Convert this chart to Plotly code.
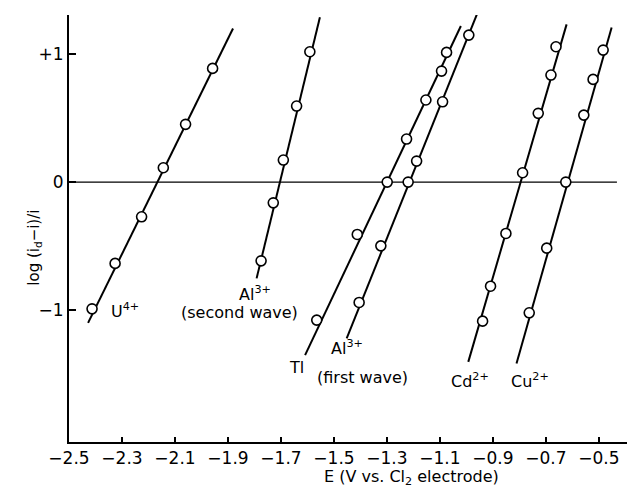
import plotly.graph_objects as go

# ---- data ----
u_E = [-2.413, -2.326, -2.226, -2.144, -2.060, -1.958]
u_log = [-0.99, -0.635, -0.271, 0.112, 0.451, 0.888]
u_line_E = [-2.428, -1.881]
u_line_log = [-1.10, 1.20]

al2_E = [-1.775, -1.729, -1.691, -1.641, -1.591]
al2_log = [-0.615, -0.162, 0.172, 0.594, 1.018]
al2_line_E = [-1.792, -1.553]
al2_line_log = [-0.752, 1.287]

tl_E = [-1.565, -1.412, -1.299, -1.226, -1.153, -1.094, -1.075]
tl_log = [-1.078, -0.409, 0.0, 0.336, 0.641, 0.867, 1.013]
tl_line_E = [-1.609, -1.021]
tl_line_log = [-1.352, 1.219]

al1_E = [-1.405, -1.323, -1.220, -1.188, -1.090, -0.991]
al1_log = [-0.940, -0.498, 0.0, 0.164, 0.627, 1.148]
al1_line_E = [-1.452, -0.958]
al1_line_log = [-1.221, 1.323]

cd_E = [-0.939, -0.909, -0.851, -0.788, -0.729, -0.681, -0.662]
cd_log = [-1.086, -0.813, -0.401, 0.073, 0.537, 0.836, 1.057]
cd_line_E = [-0.993, -0.622]
cd_line_log = [-1.404, 1.232]

cu_E = [-0.763, -0.697, -0.625, -0.557, -0.522, -0.484]
cu_log = [-1.021, -0.516, 0.0, 0.523, 0.802, 1.031]
cu_line_E = [-0.811, -0.452]
cu_line_log = [-1.417, 1.208]

x_ticks = [-2.5, -2.3, -2.1, -1.9, -1.7, -1.5, -1.3, -1.1, -0.9, -0.7, -0.5]
x_tick_labels = ["−2.5", "−2.3", "−2.1", "−1.9", "−1.7", "−1.5", "−1.3", "−1.1", "−0.9", "−0.7", "−0.5"]
y_ticks = [1, 0, -1]
y_tick_labels = ["+1", "0", "−1"]

labels_text = ["U<sup>4+</sup>", "Al<sup>3+</sup>", "(second wave)", "Tl", "Al<sup>3+</sup>",
               "(first wave)", "Cd<sup>2+</sup>", "Cu<sup>2+</sup>"]
labels_E = [-2.289, -1.798, -1.855, -1.640, -1.451, -1.391, -0.987, -0.760]
labels_log = [-1.00, -0.87, -1.02, -1.445, -1.29, -1.53, -1.547, -1.547]

FONT = "DejaVu Sans"

series = [
    (u_E, u_log, u_line_E, u_line_log),
    (al2_E, al2_log, al2_line_E, al2_line_log),
    (tl_E, tl_log, tl_line_E, tl_line_log),
    (al1_E, al1_log, al1_line_E, al1_line_log),
    (cd_E, cd_log, cd_line_E, cd_line_log),
    (cu_E, cu_log, cu_line_E, cu_line_log),
]

fig = go.Figure()
# zero line
fig.add_shape(type="line", x0=-2.5, x1=-0.432, y0=0, y1=0, xref="x", yref="y",
              line=dict(color="black", width=1.3), layer="below")

for E, L, lE, lL in series:
    fig.add_trace(go.Scatter(x=lE, y=lL, mode="lines",
                             line=dict(color="black", width=2), hoverinfo="skip",
                             showlegend=False))
    fig.add_trace(go.Scatter(x=E, y=L, mode="markers",
                             marker=dict(symbol="circle", size=10, color="white",
                                         line=dict(color="black", width=1.6)),
                             showlegend=False))

for t, e, l in zip(labels_text, labels_E, labels_log):
    fig.add_annotation(x=e, y=l, xref="x", yref="y", text=t, showarrow=False,
                       font=dict(family=FONT, size=16, color="black"),
                       xanchor="center", yanchor="middle")

fig.add_annotation(x=0.613, y=-0.082, xref="paper", yref="paper",
                   text="E (V vs. Cl<sub>2</sub> electrode)", showarrow=False,
                   font=dict(family=FONT, size=16, color="black"),
                   xanchor="center", yanchor="middle")
fig.add_annotation(x=-0.062, y=0.456, xref="paper", yref="paper",
                   text="log (i<sub>d</sub>−i)/i", showarrow=False, textangle=-90,
                   font=dict(family=FONT, size=15, color="black"),
                   xanchor="center", yanchor="middle")

fig.update_layout(
    width=627, height=488,
    margin=dict(l=69, r=0, t=15, b=46),
    paper_bgcolor="white", plot_bgcolor="white",
    font=dict(family=FONT, size=17, color="black"),
    xaxis=dict(range=[-2.5, -0.394], tickvals=x_ticks, ticktext=x_tick_labels,
               ticks="inside", ticklen=5, tickwidth=1.5, tickcolor="black",
               tickfont=dict(family=FONT, size=17, color="black"),
               showline=True, linecolor="black", linewidth=2, showgrid=False,
               zeroline=False, mirror=False),
    yaxis=dict(range=[-2.03, 1.305], tickvals=y_ticks, ticktext=y_tick_labels,
               ticks="inside", ticklen=7, tickwidth=1.5, tickcolor="black",
               tickfont=dict(family=FONT, size=17, color="black"),
               showline=True, linecolor="black", linewidth=2, showgrid=False,
               zeroline=False, mirror=False),
)

fig.write_html("out.html")
